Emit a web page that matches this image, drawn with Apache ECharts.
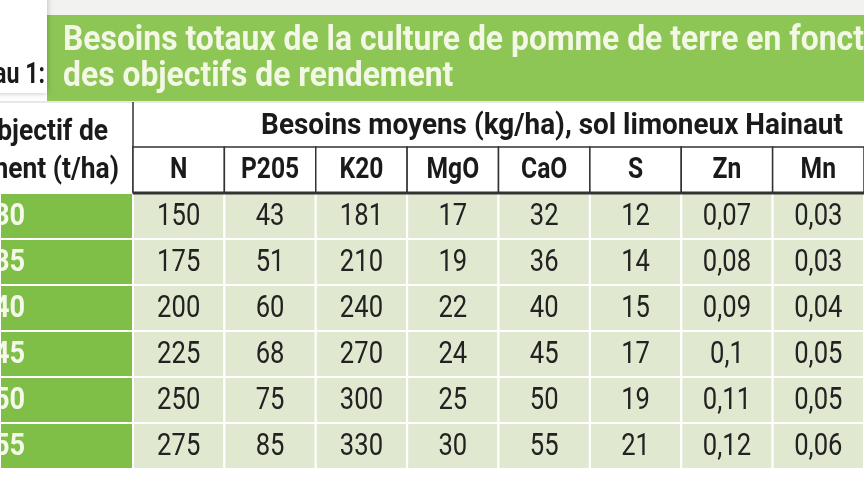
<!DOCTYPE html>
<html><head><meta charset="utf-8">
<script src="https://cdn.jsdelivr.net/npm/echarts@6/dist/echarts.min.js"></script>
<style>html,body{margin:0;padding:0;background:#fff}#c{width:864px;height:486px}</style>
</head><body><div id="c"></div>
<script>
const titleLines = ['Besoins totaux de la culture de pomme de terre en fonction', 'des objectifs de rendement'];
const tableLabel = 'Tableau 1:';
const headerTop = 'Besoins moyens (kg/ha), sol limoneux Hainaut';
const rowHeaderLines = ['Objectif de', 'rendement (t/ha)'];
const elements = ['N', 'P205', 'K20', 'MgO', 'CaO', 'S', 'Zn', 'Mn'];
const yields = ['30', '35', '40', '45', '50', '55'];
const N = [150, 175, 200, 225, 250, 275];
const P205 = [43, 51, 60, 68, 75, 85];
const K20 = [181, 210, 240, 270, 300, 330];
const MgO = [17, 19, 22, 24, 25, 30];
const CaO = [32, 36, 40, 45, 50, 55];
const S = [12, 14, 15, 17, 19, 21];
const Zn = [0.07, 0.08, 0.09, 0.1, 0.11, 0.12];
const Mn = [0.03, 0.03, 0.04, 0.05, 0.05, 0.06];
const columns = [N, P205, K20, MgO, CaO, S, Zn, Mn];

const FONT = 'Roboto, "Liberation Sans", sans-serif';
const fmt = v => String(v).replace('.', ',');
const cells = [];
columns.forEach((col, ci) => col.forEach((v, ri) => cells.push([ci, ri, fmt(v)])));
const rowCells = yields.map((y, ri) => [0, ri, y]);
const headCells = elements.map((e, ci) => [ci, 0, e]);

const txt = (x, y, text, font, fill, align, sx) => ({
  type: 'text', x: x, y: y, scaleX: sx,
  style: { text: text, fill: fill, font: font, align: align, verticalAlign: 'middle' }
});

const chart = echarts.init(document.getElementById('c'));
chart.setOption({
  backgroundColor: '#ffffff',
  animation: false,
  grid: { left: 133, top: 193, width: 744, height: 276 },
  xAxis: { type: 'category', data: elements, position: 'top', show: false },
  yAxis: { type: 'category', data: yields, inverse: true, show: false },
  graphic: [
    { type: 'rect', shape: { x: 0, y: 0, width: 864, height: 15 }, style: { fill: '#f2f3f0' } },
    { type: 'rect', shape: { x: 47, y: 15, width: 830, height: 86 }, style: { fill: '#8dc655' } },
    { type: 'rect', shape: { x: -100, y: -5, width: 147, height: 98 }, style: { fill: '#ffffff', shadowBlur: 6, shadowColor: 'rgba(0,0,0,0.25)' } },
    txt(45, 76, tableLabel, 'bold 29px ' + FONT, '#1a1a1a', 'right', 0.8),
    txt(63, 41, titleLines[0], 'bold 35px ' + FONT, '#f3f8e6', 'left', 0.91),
    txt(63, 77, titleLines[1], 'bold 35px ' + FONT, '#f3f8e6', 'left', 0.91),
    { type: 'line', shape: { x1: 0, y1: 102, x2: 864, y2: 102 }, style: { stroke: '#cfcfcf', lineWidth: 1 } },
    { type: 'line', shape: { x1: 133, y1: 102, x2: 133, y2: 193 }, style: { stroke: '#333', lineWidth: 1.5 } },
    txt(552, 126, headerTop, 'bold 30px ' + FONT, '#1a1a1a', 'center', 0.93),
    txt(108, 132, rowHeaderLines[0], 'bold 30px ' + FONT, '#1a1a1a', 'right', 0.88),
    txt(119, 170, rowHeaderLines[1], 'bold 30px ' + FONT, '#1a1a1a', 'right', 0.88)
  ],
  series: [
    {
      type: 'custom', name: 'data', clip: false, data: cells,
      renderItem: (params, api) => {
        const c = api.coord([api.value(0), api.value(1)]);
        const s = api.size([1, 1]);
        return { type: 'group', children: [
          { type: 'rect', shape: { x: c[0] - s[0] / 2, y: c[1] - s[1] / 2, width: s[0], height: s[1] }, style: { fill: '#e0e9d0', stroke: '#ffffff', lineWidth: 2 } },
          txt(c[0], c[1] + 1, cells[params.dataIndex][2], '32px ' + FONT, '#222', 'center', 0.8)
        ] };
      }
    },
    {
      type: 'custom', name: 'rows', clip: false, data: rowCells,
      renderItem: (params, api) => {
        const c = api.coord([0, api.value(1)]);
        const s = api.size([1, 1]);
        const left = c[0] - s[0] / 2;
        return { type: 'group', children: [
          { type: 'rect', shape: { x: 0, y: c[1] - s[1] / 2, width: left, height: s[1] }, style: { fill: '#7fbf48', stroke: '#ffffff', lineWidth: 2 } },
          txt(-6, c[1] + 1, rowCells[params.dataIndex][2], 'bold 32px ' + FONT, '#f5f9ea', 'left', 0.85)
        ] };
      }
    },
    {
      type: 'custom', name: 'head', clip: false, data: headCells,
      renderItem: (params, api) => {
        const c = api.coord([api.value(0), 0]);
        const s = api.size([1, 1]);
        const y = c[1] - s[1] * 1.5;
        return { type: 'group', children: [
          { type: 'rect', shape: { x: c[0] - s[0] / 2, y: y, width: s[0], height: s[1] }, style: { fill: '#ffffff', stroke: '#333', lineWidth: 1.5 } },
          { type: 'line', shape: { x1: c[0] - s[0] / 2, y1: y + s[1], x2: c[0] + s[0] / 2, y2: y + s[1] }, style: { stroke: '#333', lineWidth: 3 } },
          txt(c[0], y + s[1] / 2 + 1, headCells[params.dataIndex][2], 'bold 29px ' + FONT, '#1a1a1a', 'center', 0.85)
        ] };
      }
    }
  ]
});
</script></body></html>
